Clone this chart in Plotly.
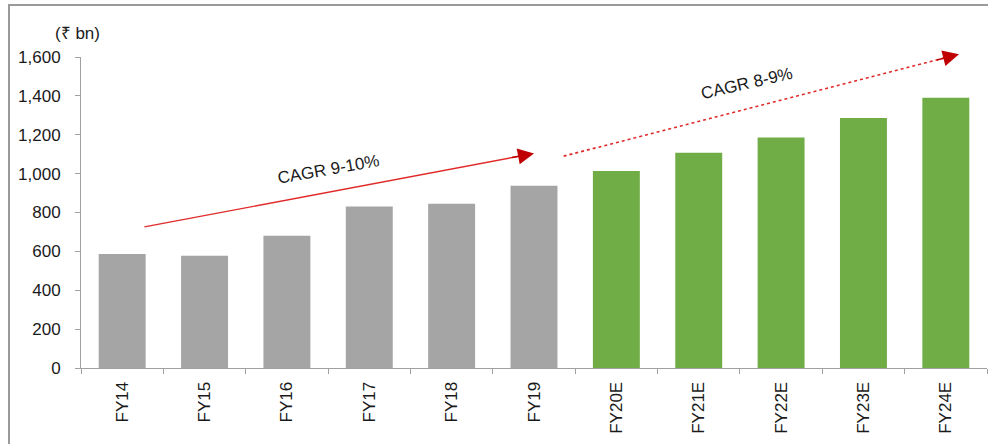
import plotly.graph_objects as go

categories = ["FY14", "FY15", "FY16", "FY17", "FY18", "FY19",
              "FY20E", "FY21E", "FY22E", "FY23E", "FY24E"]
values = [587, 577, 680, 831, 845, 937, 1013, 1107, 1186, 1286, 1390]
bar_colors = ["#a5a5a5"] * 6 + ["#70ad47"] * 5
y_ticks = [0, 200, 400, 600, 800, 1000, 1200, 1400, 1600]
unit_label = "(₹ bn)"
cagr_labels = ["CAGR 9-10%", "CAGR 8-9%"]

# arrow endpoints in data units (category index, value)
arrow1 = [(0.27, 726), (5.0, 1104)]
arrow2 = [(5.36, 1090), (10.16, 1614)]
label_pos = [(2.5, 1020, -10), (7.58, 1464, -13)]

W, H = 988, 444
ML, MR, MT, MB = 81, 1, 57, 76
YMAX = 1600
FONT = "Liberation Sans, Arial, sans-serif"


def px_to_paper_x(px):
    return (px - ML) / (W - ML - MR)


def px_to_paper_y(py):
    return (H - MB - py) / (H - MT - MB)


fig = go.Figure()
fig.add_trace(go.Bar(
    x=categories, y=values, marker=dict(color=bar_colors, line=dict(width=0)),
    width=0.57, showlegend=False, hoverinfo="x+y"))

shapes = []
annotations = []

# arrow 1: solid line, arrow 2: dotted line
for (s, e), dash, wid in ((arrow1, "solid", 1.4), (arrow2, "dot", 1.6)):
    slope = (e[1] - s[1]) / (e[0] - s[0])
    shapes.append(dict(type="line", xref="x", yref="paper",
                       x0=s[0], y0=s[1] / YMAX,
                       x1=e[0] - 0.1, y1=(e[1] - 0.1 * slope) / YMAX,
                       line=dict(color="#e02a2a", width=wid, dash=dash)))

for (s, e) in (arrow1, arrow2):
    frac = 0.06
    ax = e[0] - frac * (e[0] - s[0])
    ay = e[1] - frac * (e[1] - s[1])
    annotations.append(dict(x=e[0], y=e[1], xref="x", yref="y",
                            ax=ax, ay=ay, axref="x", ayref="y",
                            showarrow=True, arrowhead=2, arrowsize=2.3,
                            arrowwidth=1.4, arrowcolor="#c00000", text=""))

for (txt, (lx, ly, ang)) in zip(cagr_labels, label_pos):
    annotations.append(dict(x=lx, y=ly, xref="x", yref="y", text=txt,
                            showarrow=False, textangle=ang,
                            font=dict(family=FONT, size=17, color="#1a1a1a")))

annotations.append(dict(x=px_to_paper_x(77), y=px_to_paper_y(33), xref="paper", yref="paper",
                        text=unit_label, showarrow=False, xanchor="center", yanchor="middle",
                        font=dict(family=FONT, size=17, color="#1a1a1a")))

# outer frame (top and left visible)
shapes.append(dict(type="rect", xref="paper", yref="paper",
                   x0=px_to_paper_x(9), x1=px_to_paper_x(1000),
                   y0=px_to_paper_y(460), y1=px_to_paper_y(5),
                   line=dict(color="#9a9a9a", width=2), layer="below"))

fig.update_layout(
    width=W, height=H,
    margin=dict(l=ML, r=MR, t=MT, b=MB, pad=0),
    paper_bgcolor="white", plot_bgcolor="white",
    font=dict(family=FONT, size=17, color="#1a1a1a"),
    shapes=shapes, annotations=annotations,
    bargap=0.43,
    xaxis=dict(type="category", tickangle=-90, ticks="outside", tickson="boundaries",
               ticklen=5, tickcolor="#a0a0a0", showline=True, linecolor="#a0a0a0",
               linewidth=1, showgrid=False, ticklabelstandoff=6,
               tickfont=dict(family=FONT, size=17, color="#1a1a1a")),
    yaxis=dict(range=[0, YMAX], tickvals=y_ticks, tickformat=",", ticks="outside",
               ticklen=5, tickcolor="#a0a0a0", showline=True, linecolor="#a0a0a0",
               linewidth=1, showgrid=False, zeroline=False, ticklabelstandoff=11,
               tickfont=dict(family=FONT, size=17, color="#1a1a1a")),
)

fig.write_html("out.html")
